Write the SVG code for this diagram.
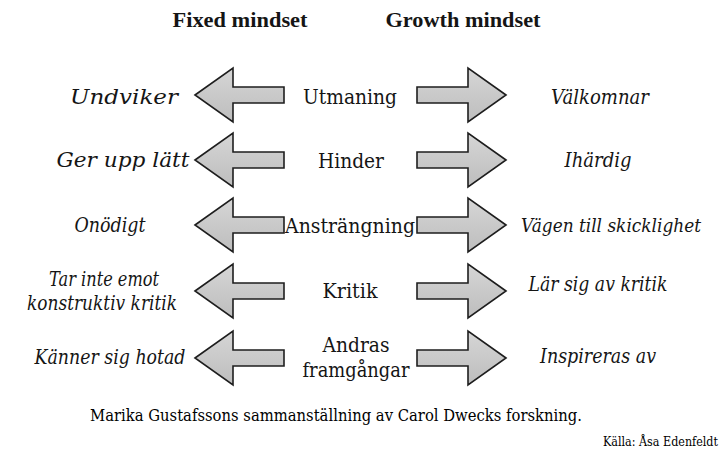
<svg xmlns="http://www.w3.org/2000/svg" xmlns:xlink="http://www.w3.org/1999/xlink" width="726" height="455" viewBox="0 0 726 455">
<style>
text{font-family:"DejaVu Serif","Liberation Serif",serif;fill:#151515}
.h{font-family:"Liberation Serif","DejaVu Serif",serif;font-weight:bold;font-size:22px;text-anchor:middle}
.c{font-size:21px;text-anchor:middle}
.i{font-style:italic;font-size:21px;text-anchor:middle}
.cap{font-size:16px;text-anchor:middle;fill:#000}
.src{font-size:12px;text-anchor:end;fill:#000}
.arr{fill:url(#g);stroke:#1e1e1e;stroke-width:1.6;stroke-linejoin:miter}
</style>
<defs>
<linearGradient id="g" x1="0" y1="0" x2="0" y2="1">
<stop offset="0" stop-color="#d6d6d6"/>
<stop offset="1" stop-color="#bdbdbd"/>
</linearGradient>
<path id="la" class="arr" d="M195,0 L233,-27 L233,-8 L284,-8 L284,8 L233,8 L233,27 Z"/>
<path id="ra" class="arr" d="M506,0 L468,-27 L468,-8 L417,-8 L417,8 L468,8 L468,27 Z"/>
</defs>
<rect width="726" height="455" fill="#fff"/>

<g id="header">
<text class="h" x="240" y="27" textLength="135" lengthAdjust="spacingAndGlyphs">Fixed mindset</text>
<text class="h" x="463" y="27" textLength="155" lengthAdjust="spacingAndGlyphs">Growth mindset</text>
</g>

<g id="connectors">
<use xlink:href="#la" href="#la" transform="translate(0,95)"/>
<use xlink:href="#ra" href="#ra" transform="translate(0,95)"/>
<use xlink:href="#la" href="#la" transform="translate(0,160)"/>
<use xlink:href="#ra" href="#ra" transform="translate(0,160)"/>
<use xlink:href="#la" href="#la" transform="translate(0,225)"/>
<use xlink:href="#ra" href="#ra" transform="translate(0,225)"/>
<use xlink:href="#la" href="#la" transform="translate(0,291)"/>
<use xlink:href="#ra" href="#ra" transform="translate(0,291)"/>
<use xlink:href="#la" href="#la" transform="translate(0,358)"/>
<use xlink:href="#ra" href="#ra" transform="translate(0,358)"/>
</g>

<g id="row1">
<g id="utmaning"><text class="c" x="350" y="104" textLength="94" lengthAdjust="spacingAndGlyphs">Utmaning</text></g>
<g id="undviker"><text class="i" x="124" y="104" textLength="108" lengthAdjust="spacingAndGlyphs">Undviker</text></g>
<g id="valkomnar"><text class="i" x="600" y="104" textLength="98" lengthAdjust="spacingAndGlyphs">Välkomnar</text></g>
</g>

<g id="row2">
<g id="hinder"><text class="c" x="351" y="168" textLength="66" lengthAdjust="spacingAndGlyphs">Hinder</text></g>
<g id="ger-upp"><text class="i" x="123" y="167" textLength="133" lengthAdjust="spacingAndGlyphs">Ger upp lätt</text></g>
<g id="ihardig"><text class="i" x="598" y="167" textLength="67" lengthAdjust="spacingAndGlyphs">Ihärdig</text></g>
</g>

<g id="row3">
<g id="anstrangning"><text class="c" x="350" y="233" textLength="130" lengthAdjust="spacingAndGlyphs">Ansträngning</text></g>
<g id="onodigt"><text class="i" x="110" y="232" textLength="71" lengthAdjust="spacingAndGlyphs">Onödigt</text></g>
<g id="vagen"><text class="i" x="611" y="232" style="font-size:18px" textLength="180" lengthAdjust="spacingAndGlyphs">Vägen till skicklighet</text></g>
</g>

<g id="row4">
<g id="kritik"><text class="c" x="350" y="298" textLength="55" lengthAdjust="spacingAndGlyphs">Kritik</text></g>
<g id="tar-inte"><text class="i" x="104" y="286" textLength="110" lengthAdjust="spacingAndGlyphs">Tar inte emot</text>
<text class="i" x="102" y="310" textLength="150" lengthAdjust="spacingAndGlyphs">konstruktiv kritik</text></g>
<g id="lar-sig"><text class="i" x="598" y="291" textLength="139" lengthAdjust="spacingAndGlyphs">Lär sig av kritik</text></g>
</g>

<g id="row5">
<g id="andras"><text class="c" x="356" y="352" textLength="67" lengthAdjust="spacingAndGlyphs">Andras</text>
<text class="c" x="356" y="377" textLength="107" lengthAdjust="spacingAndGlyphs">framgångar</text></g>
<g id="kanner"><text class="i" x="110" y="364" textLength="151" lengthAdjust="spacingAndGlyphs">Känner sig hotad</text></g>
<g id="inspireras"><text class="i" x="598" y="363" textLength="116" lengthAdjust="spacingAndGlyphs">Inspireras av</text></g>
</g>

<g id="caption">
<text class="cap" x="336" y="421" textLength="492" lengthAdjust="spacingAndGlyphs">Marika Gustafssons sammanställning av Carol Dwecks forskning.</text>
<text class="src" x="718" y="446" textLength="115" lengthAdjust="spacingAndGlyphs">Källa: Åsa Edenfeldt</text>
</g>
</svg>
